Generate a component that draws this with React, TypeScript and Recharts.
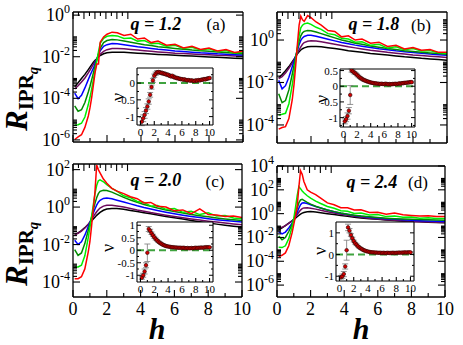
import React from "react";
import { LineChart, Line, XAxis, YAxis, ScatterChart, Scatter, ErrorBar, ReferenceLine } from "recharts";

const FONT = "'Liberation Serif', 'Times New Roman', serif";
const COLORS = ["#000000", "#6e0b5e", "#0000ff", "#008b00", "#00ee00", "#ff0000"];
const KEYS = ["black", "maroon", "blue", "green4", "green", "red"];

// h values of the main curves
const H = [0.1, 0.3, 0.5, 0.7, 0.9, 1.0, 1.1, 1.2, 1.3, 1.4, 1.5, 1.6, 1.8, 2.0, 2.3, 2.6, 3.0, 3.4, 3.8, 4.2, 4.6, 5.0, 5.5, 6.0, 6.5, 7.0, 7.5, 8.0, 8.5, 9.0, 9.5, 10.0];

// log10(R_IPR) per panel, one array per colour
const A_BLACK = [-3.45, -3.25, -3.05, -2.85, -2.62, -2.5, -2.38, -2.27, -2.17, -2.1, -2.0, -1.94, -1.86, -1.81, -1.78, -1.78, -1.79, -1.81, -1.83, -1.85, -1.87, -1.89, -1.91, -1.93, -1.95, -1.97, -1.99, -2.01, -2.03, -2.05, -2.07, -2.09];
const A_MAROON = [-3.55, -3.4, -3.22, -3.02, -2.78, -2.64, -2.5, -2.36, -2.23, -2.12, -1.98, -1.88, -1.74, -1.66, -1.61, -1.6, -1.62, -1.65, -1.68, -1.71, -1.74, -1.77, -1.8, -1.83, -1.85, -1.87, -1.89, -1.91, -1.93, -1.94, -1.96, -1.97];
const A_BLUE = [-3.75, -4.02, -3.85, -3.5, -3.1, -2.9, -2.72, -2.55, -2.33, -2.12, -1.9, -1.72, -1.5, -1.42, -1.37, -1.38, -1.42, -1.47, -1.52, -1.56, -1.6, -1.64, -1.68, -1.72, -1.75, -1.78, -1.81, -1.83, -1.86, -1.88, -1.9, -1.92];
const A_GREEN4 = [-4.36, -4.62, -4.55, -4.2, -3.7, -3.42, -3.1, -2.78, -2.46, -2.15, -1.85, -1.6, -1.32, -1.22, -1.17, -1.19, -1.24, -1.3, -1.36, -1.42, -1.46, -1.52, -1.56, -1.6, -1.64, -1.68, -1.71, -1.74, -1.77, -1.8, -1.83, -1.86];
const A_GREEN = [-5.28, -5.27, -5.2, -4.9, -4.3, -3.95, -3.55, -3.1, -2.65, -2.2, -1.75, -1.35, -1.12, -1.02, -0.98, -1.0, -1.12, -1.1, -1.25, -1.22, -1.38, -1.35, -1.5, -1.45, -1.6, -1.55, -1.68, -1.62, -1.75, -1.7, -1.82, -1.78];
const A_RED = [-5.98, -5.85, -5.75, -5.4, -4.85, -4.45, -3.95, -3.35, -2.75, -2.35, -2.35, -1.3, -1.05, -0.92, -0.82, -0.85, -0.98, -0.92, -1.15, -1.1, -1.32, -1.25, -1.45, -1.4, -1.58, -1.5, -1.65, -1.58, -1.72, -1.65, -1.8, -1.74];

const B_BLACK = [-1.78, -1.62, -1.45, -1.25, -1.02, -0.9, -0.77, -0.65, -0.55, -0.47, -0.41, -0.37, -0.32, -0.3, -0.3, -0.32, -0.36, -0.4, -0.45, -0.5, -0.54, -0.58, -0.63, -0.67, -0.71, -0.75, -0.79, -0.82, -0.86, -0.89, -0.92, -0.95];
const B_MAROON = [-1.82, -1.72, -1.55, -1.33, -1.07, -0.93, -0.78, -0.62, -0.46, -0.32, -0.2, -0.12, -0.06, -0.04, -0.05, -0.08, -0.14, -0.2, -0.26, -0.32, -0.37, -0.42, -0.48, -0.53, -0.58, -0.62, -0.66, -0.7, -0.73, -0.76, -0.79, -0.82];
const B_BLUE = [-1.9, -2.3, -2.15, -1.75, -1.25, -1.0, -0.75, -0.48, -0.22, -0.02, 0.1, 0.17, 0.22, 0.22, 0.18, 0.12, 0.04, -0.04, -0.12, -0.18, -0.24, -0.29, -0.35, -0.41, -0.46, -0.51, -0.55, -0.59, -0.62, -0.66, -0.69, -0.72];
const B_GREEN4 = [-2.53, -2.95, -2.85, -2.35, -1.6, -1.2, -0.8, -0.4, -0.05, 0.2, 0.34, 0.41, 0.45, 0.44, 0.38, 0.3, 0.2, 0.1, 0.0, -0.07, -0.15, -0.2, -0.28, -0.34, -0.4, -0.45, -0.5, -0.54, -0.58, -0.61, -0.64, -0.67];
const B_GREEN = [-3.53, -3.5, -3.45, -3.0, -2.1, -1.55, -0.95, -0.35, 0.2, 0.58, 0.7, 0.76, 0.8, 0.74, 0.6, 0.5, 0.3, 0.25, 0.08, 0.05, -0.1, -0.08, -0.25, -0.2, -0.38, -0.32, -0.46, -0.4, -0.52, -0.5, -0.6, -0.62];
const B_RED = [-4.2, -4.12, -4.08, -3.7, -2.8, -2.1, -1.2, -0.2, 0.7, 1.12, 0.95, 0.88, 1.15, 1.05, 0.85, 0.7, 0.45, 0.4, 0.15, 0.2, 0.0, 0.05, -0.15, -0.1, -0.3, -0.25, -0.42, -0.35, -0.48, -0.45, -0.58, -0.58];

const C_BLACK = [-1.5, -1.38, -1.25, -1.1, -0.93, -0.84, -0.74, -0.64, -0.54, -0.44, -0.36, -0.28, -0.17, -0.1, -0.07, -0.08, -0.12, -0.18, -0.24, -0.3, -0.36, -0.42, -0.5, -0.57, -0.64, -0.71, -0.78, -0.85, -0.91, -0.97, -1.02, -1.06];
const C_MAROON = [-1.45, -1.4, -1.28, -1.12, -0.92, -0.8, -0.66, -0.52, -0.38, -0.25, -0.14, -0.05, 0.05, 0.1, 0.1, 0.06, 0.0, -0.07, -0.15, -0.22, -0.29, -0.35, -0.43, -0.5, -0.57, -0.63, -0.69, -0.75, -0.8, -0.85, -0.9, -0.94];
const C_BLUE = [-1.77, -1.99, -1.85, -1.5, -1.05, -0.82, -0.58, -0.33, -0.1, 0.1, 0.26, 0.36, 0.46, 0.48, 0.44, 0.37, 0.27, 0.17, 0.07, -0.02, -0.1, -0.18, -0.27, -0.35, -0.43, -0.5, -0.56, -0.62, -0.67, -0.72, -0.76, -0.8];
const C_GREEN4 = [-2.27, -2.58, -2.45, -1.95, -1.25, -0.9, -0.52, -0.14, 0.2, 0.5, 0.72, 0.84, 0.9, 0.88, 0.8, 0.68, 0.52, 0.38, 0.25, 0.14, 0.04, -0.05, -0.15, -0.24, -0.32, -0.4, -0.46, -0.52, -0.58, -0.63, -0.67, -0.71];
const C_GREEN = [-3.2, -3.2, -3.1, -2.6, -1.65, -1.1, -0.5, 0.1, 0.7, 1.15, 1.4, 1.45, 1.35, 1.2, 1.0, 0.85, 0.6, 0.5, 0.3, 0.25, 0.05, 0.08, -0.12, -0.08, -0.28, -0.22, -0.4, -0.3, -0.48, -0.45, -0.58, -0.62];
const C_RED = [-3.83, -3.82, -3.72, -3.3, -2.4, -1.85, -1.0, -0.1, 0.8, 2.25, 2.0, 1.83, 1.5, 1.27, 1.0, 0.85, 0.72, 0.55, 0.45, 0.22, 0.25, 0.05, 0.0, -0.2, -0.15, -0.35, -0.1, -0.4, -0.42, -0.5, -0.48, -0.55];

const D_BLACK = [-1.37, -1.2, -1.0, -0.8, -0.6, -0.5, -0.38, -0.26, -0.14, -0.04, 0.04, 0.1, 0.16, 0.17, 0.13, 0.07, 0.0, -0.08, -0.16, -0.23, -0.3, -0.36, -0.42, -0.48, -0.53, -0.58, -0.62, -0.66, -0.69, -0.72, -0.74, -0.76];
const D_MAROON = [-1.23, -1.15, -1.0, -0.82, -0.6, -0.45, -0.27, -0.08, 0.12, 0.3, 0.42, 0.48, 0.5, 0.46, 0.38, 0.28, 0.16, 0.05, -0.05, -0.14, -0.22, -0.3, -0.38, -0.45, -0.51, -0.56, -0.61, -0.65, -0.68, -0.71, -0.73, -0.74];
const D_BLUE = [-1.51, -1.7, -1.55, -1.2, -0.8, -0.55, -0.25, 0.1, 0.45, 0.75, 0.9, 0.92, 0.85, 0.75, 0.6, 0.47, 0.3, 0.16, 0.04, -0.06, -0.15, -0.22, -0.3, -0.37, -0.43, -0.48, -0.52, -0.56, -0.59, -0.62, -0.64, -0.66];
const D_GREEN4 = [-1.87, -2.2, -2.0, -1.5, -0.9, -0.5, -0.05, 0.45, 0.9, 1.15, 1.2, 1.12, 0.95, 0.8, 0.62, 0.48, 0.3, 0.17, 0.05, -0.05, -0.13, -0.2, -0.27, -0.33, -0.38, -0.42, -0.45, -0.48, -0.5, -0.52, -0.54, -0.55];
const D_GREEN = [-2.82, -2.85, -2.7, -2.1, -1.1, -0.4, 0.5, 1.5, 2.27, 2.1, 1.9, 1.75, 1.5, 1.3, 1.05, 0.85, 0.6, 0.45, 0.25, 0.2, 0.02, 0.05, -0.12, -0.08, -0.25, -0.2, -0.3, -0.28, -0.38, -0.35, -0.4, -0.4];
const D_RED = [-3.61, -3.5, -3.3, -2.7, -1.6, -0.9, -0.2, 0.6, 2.2, 3.6, 3.3, 2.7, 2.0, 1.8, 1.6, 1.3, 0.9, 0.75, 0.5, 0.5, 0.3, 0.32, 0.1, 0.12, -0.05, 0.05, -0.1, -0.15, -0.2, -0.18, -0.25, -0.25];

// insets: exponent nu vs h
const HI = [0.2, 0.4, 0.6, 0.8, 1.0, 1.2, 1.4, 1.6, 1.8, 2.0, 2.2, 2.4, 2.6, 2.8, 3.0, 3.2, 3.4, 3.6, 3.8, 4.0, 4.2, 4.4, 4.6, 4.8, 5.0, 5.2, 5.4, 5.6, 5.8, 6.0, 6.2, 6.4, 6.6, 6.8, 7.0, 7.2, 7.4, 7.6, 7.8, 8.0, 8.2, 8.4, 8.6, 8.8, 9.0, 9.2, 9.4, 9.6, 9.8, 10.0];
const NU_A = [-1.15, -1.05, -0.95, -0.82, -0.7, -0.55, -0.35, -0.12, 0.08, 0.22, 0.28, 0.32, 0.33, 0.32, 0.3, 0.3, 0.28, 0.27, 0.25, 0.25, 0.22, 0.2, 0.22, 0.18, 0.17, 0.15, 0.15, 0.13, 0.12, 0.12, 0.1, 0.11, 0.09, 0.08, 0.09, 0.07, 0.08, 0.07, 0.06, 0.08, 0.07, 0.09, 0.08, 0.1, 0.1, 0.12, 0.11, 0.13, 0.14, 0.15];
const ERR_A = [0.12, 0.1, 0.1, 0.09, 0.08, 0.08, 0.07, 0.06, 0.06, 0.05, 0.05, 0.05, 0.04, 0.04, 0.04, 0.04, 0.04, 0.04, 0.03, 0.03, 0.03, 0.03, 0.03, 0.03, 0.03, 0.03, 0.03, 0.03, 0.03, 0.03, 0.03, 0.03, 0.03, 0.03, 0.03, 0.03, 0.03, 0.03, 0.03, 0.03, 0.03, 0.03, 0.03, 0.03, 0.03, 0.03, 0.03, 0.03, 0.03, 0.03];
const NU_B = [-1.12, -1.05, -0.95, -0.78, -0.28, 0.5, 0.47, 0.43, 0.4, 0.36, 0.32, 0.28, 0.25, 0.22, 0.2, 0.18, 0.16, 0.15, 0.13, 0.12, 0.11, 0.1, 0.09, 0.09, 0.08, 0.08, 0.07, 0.08, 0.07, 0.07, 0.08, 0.07, 0.06, 0.07, 0.06, 0.07, 0.07, 0.08, 0.07, 0.08, 0.09, 0.08, 0.1, 0.1, 0.11, 0.11, 0.12, 0.12, 0.13, 0.13];
const ERR_B = [0.08, 0.08, 0.1, 0.1, 0.3, 0.05, 0.04, 0.04, 0.03, 0.03, 0.03, 0.03, 0.03, 0.03, 0.03, 0.03, 0.03, 0.03, 0.03, 0.03, 0.03, 0.03, 0.03, 0.03, 0.03, 0.03, 0.03, 0.03, 0.03, 0.03, 0.03, 0.03, 0.03, 0.03, 0.03, 0.03, 0.03, 0.03, 0.03, 0.03, 0.03, 0.03, 0.03, 0.03, 0.03, 0.03, 0.03, 0.03, 0.03, 0.03];
const NU_C = [-1.1, -1.0, -0.85, -0.6, -0.1, 0.85, 0.78, 0.68, 0.6, 0.52, 0.45, 0.4, 0.34, 0.3, 0.26, 0.23, 0.2, 0.18, 0.16, 0.15, 0.14, 0.13, 0.12, 0.12, 0.11, 0.11, 0.1, 0.1, 0.1, 0.09, 0.1, 0.09, 0.08, 0.09, 0.08, 0.08, 0.09, 0.08, 0.09, 0.1, 0.09, 0.1, 0.1, 0.11, 0.1, 0.11, 0.12, 0.12, 0.12, 0.12];
const ERR_C = [0.06, 0.08, 0.1, 0.1, 0.35, 0.1, 0.06, 0.05, 0.04, 0.04, 0.04, 0.03, 0.03, 0.03, 0.03, 0.03, 0.03, 0.03, 0.03, 0.03, 0.03, 0.03, 0.03, 0.03, 0.03, 0.03, 0.03, 0.03, 0.03, 0.03, 0.03, 0.03, 0.03, 0.03, 0.03, 0.03, 0.03, 0.03, 0.03, 0.03, 0.03, 0.03, 0.03, 0.03, 0.03, 0.03, 0.03, 0.03, 0.03, 0.03];
const NU_D = [-1.05, -1.0, -0.9, -0.55, 0.2, 1.25, 1.1, 0.9, 0.75, 0.62, 0.52, 0.45, 0.38, 0.32, 0.28, 0.24, 0.2, 0.18, 0.15, 0.14, 0.12, 0.11, 0.1, 0.1, 0.09, 0.09, 0.08, 0.08, 0.08, 0.07, 0.08, 0.07, 0.07, 0.08, 0.07, 0.07, 0.08, 0.08, 0.07, 0.08, 0.08, 0.09, 0.08, 0.09, 0.09, 0.1, 0.09, 0.1, 0.1, 0.1];
const ERR_D = [0.08, 0.1, 0.12, 0.12, 0.46, 0.15, 0.1, 0.06, 0.05, 0.04, 0.04, 0.04, 0.03, 0.03, 0.03, 0.03, 0.03, 0.03, 0.03, 0.03, 0.03, 0.03, 0.03, 0.03, 0.03, 0.03, 0.03, 0.03, 0.03, 0.03, 0.03, 0.03, 0.03, 0.03, 0.03, 0.03, 0.03, 0.03, 0.03, 0.03, 0.03, 0.03, 0.03, 0.03, 0.03, 0.03, 0.03, 0.03, 0.03, 0.03];

const X_TICKS = [0, 1, 2, 3, 4, 5, 6, 7, 8, 9, 10];
const MINOR_MULTS = [2, 3, 4, 5, 6, 7, 8, 9];

type Box = { l: number; t: number; w: number; h: number };

const xTick = (side: "top" | "bottom", labels: boolean, big: number, small: number, fs: number) => (p: any) => {
  const v = p.payload.value;
  const major = v % 2 === 0;
  const len = major ? big : small;
  const dir = side === "bottom" ? -1 : 1;
  return (
    <g>
      <line x1={p.x} y1={p.y} x2={p.x} y2={p.y + dir * len} stroke="#000" strokeWidth={1.1} />
      {labels && major && (
        <text x={p.x} y={p.y + fs} textAnchor="middle" fontFamily={FONT} fontSize={fs} fill="#000">
          {v}
        </text>
      )}
    </g>
  );
};

const logTick = (side: "left" | "right", majors: number[]) => (p: any) => {
  const v = p.payload.value;
  const major = majors.includes(v);
  const len = major ? 7 : 4;
  const dir = side === "left" ? 1 : -1;
  return (
    <g>
      <line x1={p.x} y1={p.y} x2={p.x + dir * len} y2={p.y} stroke="#000" strokeWidth={1.1} />
      {major && side === "left" && (
        <text x={p.x - 3} y={p.y + 6} textAnchor="end" fontFamily={FONT} fontSize={18} fill="#000">
          10
          <tspan dy={-8} fontSize={12}>
            {v}
          </tspan>
        </text>
      )}
    </g>
  );
};

const linTick = (side: "left" | "right", majors: number[]) => (p: any) => {
  const v = p.payload.value;
  const major = majors.includes(v);
  const len = major ? 4 : 2;
  const dir = side === "left" ? 1 : -1;
  return (
    <g>
      <line x1={p.x} y1={p.y} x2={p.x + dir * len} y2={p.y} stroke="#000" strokeWidth={1} />
      {major && side === "left" && (
        <text x={p.x - 2} y={p.y + 4} textAnchor="end" fontFamily={FONT} fontSize={11} fill="#000">
          {v}
        </text>
      )}
    </g>
  );
};

function MainPanel({ box, domain, majors, series, xLabels }: { box: Box; domain: [number, number]; majors: number[]; series: number[][]; xLabels: boolean }) {
  const rows = H.map((h, i) => {
    const r: any = { h };
    series.forEach((s, k) => (r[KEYS[k]] = s[i]));
    return r;
  });
  const minors: number[] = [];
  [majors[0] - 2, ...majors].forEach((e) =>
    MINOR_MULTS.forEach((m) => {
      const v = e + Math.log10(m);
      if (v > domain[0] && v < domain[1]) minors.push(v);
    })
  );
  const yTicks = [...majors, ...minors];
  const axisLine = { stroke: "#000", strokeWidth: 1.3 };
  return (
    <div style={{ position: "absolute", left: box.l - 50, top: box.t - 13 }}>
      <LineChart width={box.w + 63} height={box.h + 41} data={rows} margin={{ top: 12, right: 12, left: 0, bottom: 0 }}>
        <XAxis xAxisId="b" dataKey="h" type="number" domain={[0, 10]} allowDataOverflow ticks={X_TICKS} interval={0} height={28} tickSize={0} tickMargin={0} tickLine={false} axisLine={axisLine} tick={xTick("bottom", xLabels, 7, 4, 18)} />
        <XAxis xAxisId="t" orientation="top" type="number" domain={[0, 10]} allowDataOverflow ticks={X_TICKS} interval={0} height={1} tickSize={0} tickMargin={0} tickLine={false} axisLine={axisLine} tick={xTick("top", false, 7, 4, 18)} />
        <YAxis yAxisId="l" type="number" domain={domain} allowDataOverflow ticks={yTicks} interval={0} width={50} tickSize={0} tickMargin={0} tickLine={false} axisLine={axisLine} tick={logTick("left", majors)} />
        <YAxis yAxisId="r" orientation="right" type="number" domain={domain} allowDataOverflow ticks={yTicks} interval={0} width={1} tickSize={0} tickMargin={0} tickLine={false} axisLine={axisLine} tick={logTick("right", majors)} />
        {KEYS.map((k, i) => (
          <Line key={k} xAxisId="b" yAxisId="l" type="linear" dataKey={k} stroke={COLORS[i]} strokeWidth={1.5} dot={false} isAnimationActive={false} />
        ))}
      </LineChart>
    </div>
  );
}

const dotShape = (p: any) => <circle cx={p.cx} cy={p.cy} r={1.8} fill="#d40000" stroke="#2a0000" strokeWidth={0.6} />;

function Inset({ box, domain, majors, minors, nu, err }: { box: Box; domain: [number, number]; majors: number[]; minors: number[]; nu: number[]; err: number[] }) {
  const rows = HI.map((h, i) => ({ h, nu: nu[i], err: err[i] }));
  const yTicks = [...majors, ...minors];
  const axisLine = { stroke: "#000", strokeWidth: 1.1 };
  return (
    <>
      <div style={{ position: "absolute", left: box.l, top: box.t, width: box.w, height: box.h, background: "#fff" }} />
      <div style={{ position: "absolute", left: box.l - 28, top: box.t - 8 }}>
        <ScatterChart width={box.w + 37} height={box.h + 24} margin={{ top: 7, right: 8, left: 0, bottom: 0 }}>
          <XAxis xAxisId="b" dataKey="h" type="number" domain={[-0.5, 10.5]} allowDataOverflow ticks={X_TICKS} interval={0} height={16} tickSize={0} tickMargin={0} tickLine={false} axisLine={axisLine} tick={xTick("bottom", true, 4, 2, 11)} />
          <XAxis xAxisId="t" orientation="top" type="number" domain={[-0.5, 10.5]} allowDataOverflow ticks={X_TICKS} interval={0} height={1} tickSize={0} tickMargin={0} tickLine={false} axisLine={axisLine} tick={xTick("top", false, 4, 2, 11)} />
          <YAxis yAxisId="l" dataKey="nu" type="number" domain={domain} allowDataOverflow ticks={yTicks} interval={0} width={28} tickSize={0} tickMargin={0} tickLine={false} axisLine={axisLine} tick={linTick("left", majors)} />
          <YAxis yAxisId="r" orientation="right" type="number" domain={domain} allowDataOverflow ticks={yTicks} interval={0} width={1} tickSize={0} tickMargin={0} tickLine={false} axisLine={axisLine} tick={linTick("right", majors)} />
          <ReferenceLine xAxisId="b" yAxisId="l" y={0} stroke="#3fa33f" strokeWidth={2} strokeDasharray="7 4" />
          <Scatter xAxisId="b" yAxisId="l" data={rows} dataKey="nu" shape={dotShape} isAnimationActive={false}>
            <ErrorBar dataKey="err" direction="y" width={3} stroke="#777" strokeWidth={0.8} isAnimationActive={false} />
          </Scatter>
        </ScatterChart>
      </div>
    </>
  );
}

const qText = { fontFamily: FONT, fontSize: 18, fontWeight: "bold" as const, fontStyle: "italic" as const };

function RLabel({ x, y }: { x: number; y: number }) {
  return (
    <text transform={`translate(${x},${y}) rotate(-90)`} fontFamily={FONT} fontWeight="bold" fill="#000">
      <tspan fontSize={31} fontStyle="italic">R</tspan>
      <tspan fontSize={21} dy={6}>IPR</tspan>
      <tspan fontSize={15} fontStyle="italic" dy={5}>q</tspan>
    </text>
  );
}

function Nu({ x, y }: { x: number; y: number }) {
  return (
    <text transform={`translate(${x},${y}) rotate(-90)`} textAnchor="middle" dominantBaseline="central" fontFamily={FONT} fontSize={18} fill="#000">
      ν
    </text>
  );
}

export default function App() {
  return (
    <div style={{ position: "absolute", left: 0, top: 0, width: 463, height: 345, background: "#fff", overflow: "hidden" }}>
      <MainPanel box={{ l: 73, t: 12, w: 170, h: 130 }} domain={[-6.1, 0.15]} majors={[-6, -4, -2, 0]} series={[A_BLACK, A_MAROON, A_BLUE, A_GREEN4, A_GREEN, A_RED]} xLabels={false} />
      <MainPanel box={{ l: 277, t: 12, w: 170, h: 131 }} domain={[-4.85, 1.32]} majors={[-4, -2, 0]} series={[B_BLACK, B_MAROON, B_BLUE, B_GREEN4, B_GREEN, B_RED]} xLabels={false} />
      <MainPanel box={{ l: 73, t: 164, w: 169, h: 133 }} domain={[-4.8, 2.3]} majors={[-4, -2, 0, 2]} series={[C_BLACK, C_MAROON, C_BLUE, C_GREEN4, C_GREEN, C_RED]} xLabels={true} />
      <MainPanel box={{ l: 277, t: 166, w: 168, h: 131 }} domain={[-7, 4]} majors={[-6, -4, -2, 0, 2, 4]} series={[D_BLACK, D_MAROON, D_BLUE, D_GREEN4, D_GREEN, D_RED]} xLabels={true} />

      <Inset box={{ l: 137, t: 68, w: 76, h: 57 }} domain={[-1.25, 0.45]} majors={[-1, -0.5, 0]} minors={[-0.75, -0.25, 0.25]} nu={NU_A} err={ERR_A} />
      <Inset box={{ l: 340, t: 69, w: 75, h: 58 }} domain={[-1.3, 0.55]} majors={[-1, -0.5, 0, 0.5]} minors={[-1.25, -0.75, -0.25, 0.25]} nu={NU_B} err={ERR_B} />
      <Inset box={{ l: 137, t: 222, w: 76, h: 60 }} domain={[-1.27, 1.13]} majors={[-1, -0.5, 0, 0.5, 1]} minors={[-0.75, -0.25, 0.25, 0.75]} nu={NU_C} err={ERR_C} />
      <Inset box={{ l: 336, t: 222, w: 78, h: 59 }} domain={[-1.22, 1.5]} majors={[-1, 0, 1]} minors={[-0.5, 0.5]} nu={NU_D} err={ERR_D} />

      <svg width={463} height={345} style={{ position: "absolute", left: 0, top: 0, pointerEvents: "none" }}>
        <text x={156} y={30} textAnchor="middle" {...qText}>q = 1.2</text>
        <text x={216} y={30} textAnchor="middle" fontFamily={FONT} fontSize={17}>(a)</text>
        <text x={374} y={30} textAnchor="middle" {...qText}>q = 1.8</text>
        <text x={421} y={31} textAnchor="middle" fontFamily={FONT} fontSize={17}>(b)</text>
        <text x={156} y={186} textAnchor="middle" {...qText}>q = 2.0</text>
        <text x={215} y={187} textAnchor="middle" fontFamily={FONT} fontSize={17}>(c)</text>
        <text x={372} y={188} textAnchor="middle" {...qText}>q = 2.4</text>
        <text x={418} y={188} textAnchor="middle" fontFamily={FONT} fontSize={17}>(d)</text>

        <text x={157} y={339} textAnchor="middle" fontFamily={FONT} fontSize={30} fontWeight="bold" fontStyle="italic">h</text>
        <text x={361} y={339} textAnchor="middle" fontFamily={FONT} fontSize={30} fontWeight="bold" fontStyle="italic">h</text>

        <RLabel x={27} y={131} />
        <RLabel x={27} y={286} />

        <Nu x={118} y={97} />
        <Nu x={322} y={99} />
        <Nu x={108} y={248} />
        <Nu x={320} y={251} />
      </svg>
    </div>
  );
}
